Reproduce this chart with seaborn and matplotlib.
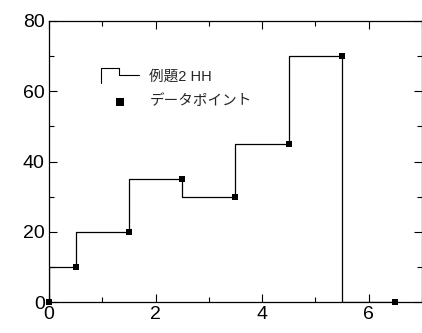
import matplotlib
matplotlib.use("Agg")
import matplotlib.pyplot as plt
import seaborn as sns
import pandas as pd
from matplotlib.legend_handler import HandlerLine2D
from matplotlib.lines import Line2D
from matplotlib.ticker import MultipleLocator

x_vals = [0, 0.5, 1.5, 2.5, 3.5, 4.5, 5.5, 6.5]
y_vals = [0, 10, 20, 35, 30, 45, 70, 0]
line_label = "例題2 HH"
point_label = "データポイント"
x_ticks = [0, 2, 4, 6]
y_ticks = [0, 20, 40, 60, 80]

sns.set_style("white")
plt.rcParams['font.family'] = ['Liberation Sans', 'Noto Sans CJK JP', 'DejaVu Sans']

df = pd.DataFrame({"x": x_vals, "y": y_vals})

fig = plt.figure(figsize=(4.22, 3.33), dpi=100)
ax = fig.add_axes([0.116, 0.093, 0.884, 0.844])

sns.lineplot(data=df, x="x", y="y", drawstyle="steps-pre", color="black",
             linewidth=0.9, ax=ax, label=line_label, sort=False)
sns.scatterplot(data=df, x="x", y="y", marker="s", color="black", s=20,
                edgecolor="black", linewidth=0, ax=ax, label=point_label,
                clip_on=False, zorder=5)

ax.set_xlim(0, 7)
ax.set_ylim(0, 80)
ax.set_xticks(x_ticks)
ax.set_yticks(y_ticks)
ax.xaxis.set_minor_locator(MultipleLocator(1))
ax.yaxis.set_minor_locator(MultipleLocator(10))
ax.tick_params(which="both", direction="in", top=True, right=True,
               bottom=True, left=True, labelsize=14, colors="black", pad=3)
ax.tick_params(which="major", length=6, width=0.8)
ax.tick_params(which="minor", length=3.5, width=0.8)
ax.set_xlabel("")
ax.set_ylabel("")
for s in ax.spines.values():
    s.set_color("black")
    s.set_linewidth(0.9)
    s.set_visible(True)


class StepHandler(HandlerLine2D):
    def create_artists(self, legend, orig_handle, xdescent, ydescent,
                       width, height, fontsize, trans):
        w = width
        h = height
        xs = [0, 0, 0.48 * w, 0.48 * w, w]
        ys = [-0.27 * h, 1.23 * h, 1.23 * h, 0.5 * h, 0.5 * h]
        xs = [v - xdescent for v in xs]
        ys = [v - ydescent for v in ys]
        ln = Line2D(xs, ys, color="black", linewidth=0.8)
        ln.set_transform(trans)
        return [ln]


handles, labels = ax.get_legend_handles_labels()
leg = ax.legend(handles, labels, loc="upper left", bbox_to_anchor=(0.105, 0.874),
                frameon=False, fontsize=10.5, handlelength=2.6,
                handletextpad=0.7, labelspacing=0.75, markerscale=1.25,
                handler_map={handles[0]: StepHandler()})

fig.savefig("out.png", dpi=100)
